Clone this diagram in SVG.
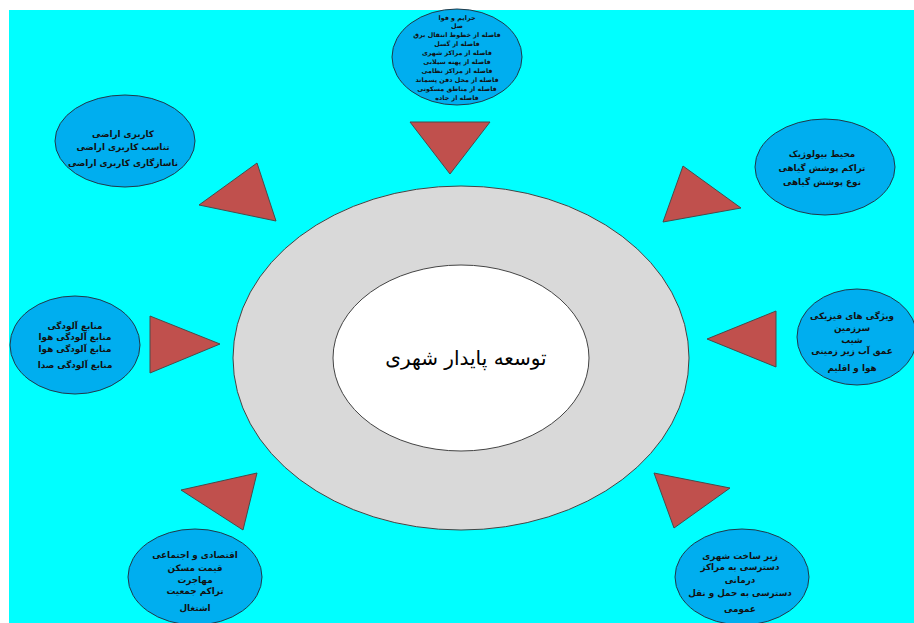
<svg xmlns="http://www.w3.org/2000/svg" width="914" height="623" viewBox="0 0 914 623">
<style>
.bub{fill:#00AEEF;stroke:#1f3a4a;stroke-width:1}
.tri{fill:#C0504D;stroke:#4a4a4a;stroke-width:1}
.t{font-family:"DejaVu Sans",sans-serif;font-size:8.8px;font-weight:bold;fill:#111;text-anchor:middle;direction:rtl}
.ts{font-family:"DejaVu Sans",sans-serif;font-size:6.4px;font-weight:bold;fill:#111;text-anchor:middle;direction:rtl}
.c{font-family:"DejaVu Serif","DejaVu Sans",serif;font-size:20px;fill:#000;text-anchor:middle;direction:rtl}
</style>
<rect x="0" y="0" width="914" height="623" fill="#fff"/>
<rect x="9" y="10" width="905" height="613" fill="#00FFFF"/>
<g id="core">
<ellipse cx="461" cy="358" rx="228" ry="172" fill="#D9D9D9" stroke="#444" stroke-width="1"/>
<ellipse cx="461" cy="358" rx="128" ry="93" fill="#fff" stroke="#444" stroke-width="1"/>
<text class="c" x="466" y="365">توسعه پایدار شهری</text>
</g>
<g id="connectors">
<polygon class="tri" points="410,122 490,122 450,174"/>
<polygon class="tri" points="199,205 257,163 276,221"/>
<polygon class="tri" points="663,222 683,166 741,208"/>
<polygon class="tri" points="150,316 150,373 220,344"/>
<polygon class="tri" points="776,311 776,367 707,339"/>
<polygon class="tri" points="181,490 257,473 243,530"/>
<polygon class="tri" points="654,473 730,488 674,528"/>
</g>
<g id="n-top">
<ellipse class="bub" cx="457" cy="57" rx="65" ry="48"/>
<text class="ts" x="457" y="20">حرایم و فوا</text>
<text class="ts" x="457" y="28">صل</text>
<text class="ts" x="457" y="37">فاصله از خطوط انتقال برق</text>
<text class="ts" x="457" y="46">فاصله از گسل</text>
<text class="ts" x="457" y="55">فاصله از مراکز شهری</text>
<text class="ts" x="457" y="64">فاصله از پهنه سیلابی</text>
<text class="ts" x="457" y="73">فاصله از مراکز نظامی</text>
<text class="ts" x="457" y="82">فاصله از محل دفن پسماند</text>
<text class="ts" x="457" y="91">فاصله از مناطق مسکونی</text>
<text class="ts" x="457" y="100">فاصله از جاده</text>
</g>
<g id="n-topleft">
<ellipse class="bub" cx="125" cy="141" rx="70" ry="46"/>
<text class="t" x="123" y="137">کاربری اراضی</text>
<text class="t" x="123" y="150">تناسب کاربری اراضی</text>
<text class="t" x="123" y="166">ناسازگاری کاربری اراضی</text>
</g>
<g id="n-topright">
<ellipse class="bub" cx="825" cy="167" rx="70" ry="48"/>
<text class="t" x="822" y="157">محیط بیولوژیک</text>
<text class="t" x="822" y="171">تراکم پوشش گیاهی</text>
<text class="t" x="822" y="185">نوع پوشش گیاهی</text>
</g>
<g id="n-left">
<ellipse class="bub" cx="75" cy="345" rx="65" ry="49"/>
<text class="t" x="75" y="329">منابع آلودگی</text>
<text class="t" x="75" y="340">منابع آلودگی هوا</text>
<text class="t" x="75" y="352">منابع آلودگی هوا</text>
<text class="t" x="75" y="368">منابع آلودگی صدا</text>
</g>
<g id="n-right">
<ellipse class="bub" cx="857" cy="337" rx="60" ry="48"/>
<text class="t" x="852" y="319">ویژگی های فیزیکی</text>
<text class="t" x="852" y="331">سرزمین</text>
<text class="t" x="852" y="343">شیب</text>
<text class="t" x="852" y="354">عمق آب زیر زمینی</text>
<text class="t" x="852" y="371">هوا و اقلیم</text>
</g>
<g id="n-bottomleft">
<ellipse class="bub" cx="195" cy="577" rx="67" ry="48"/>
<text class="t" x="195" y="558">اقتصادی و اجتماعی</text>
<text class="t" x="195" y="571">قیمت مسکن</text>
<text class="t" x="195" y="583">مهاجرت</text>
<text class="t" x="195" y="594">تراکم جمعیت</text>
<text class="t" x="195" y="611">اشتغال</text>
</g>
<g id="n-bottomright">
<ellipse class="bub" cx="742" cy="577" rx="67" ry="48"/>
<text class="t" x="740" y="559">زیر ساخت شهری</text>
<text class="t" x="740" y="570">دسترسی به مراکز</text>
<text class="t" x="740" y="583">درمانی</text>
<text class="t" x="740" y="596">دسترسی به حمل و نقل</text>
<text class="t" x="740" y="612">عمومی</text>
</g>
</svg>
